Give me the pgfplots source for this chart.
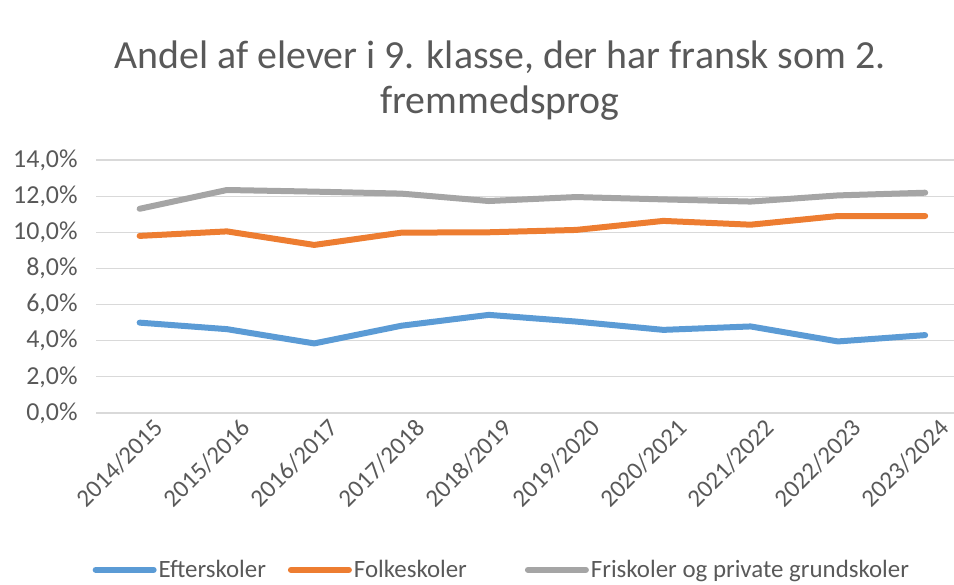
\documentclass[border=0pt]{standalone}
\usepackage{fontspec}
\setmainfont{Carlito}
\usepackage{pgfplots}
\pgfplotsset{compat=1.18}
\definecolor{cblue}{HTML}{5B9BD5}
\definecolor{corange}{HTML}{ED7D31}
\definecolor{cgray}{HTML}{A5A5A5}
\definecolor{gridc}{HTML}{D9D9D9}
\definecolor{txt}{HTML}{595959}
\begin{document}
\begin{tikzpicture}
% page frame: 954x585 px at 0.5bp per px
\path[use as bounding box] (-48bp,-86bp) rectangle (429bp,206.5bp);
\begin{axis}[
  scale only axis,
  width=429bp, height=126.5bp,
  xmin=-0.5, xmax=9.33,
  ymin=0, ymax=14,
  ytick={0,2,...,14},
  xtick={0,...,9},
  xticklabels={2014/2015,2015/2016,2016/2017,2017/2018,2018/2019,2019/2020,2020/2021,2021/2022,2022/2023,2023/2024},
  xticklabel style={rotate=45, anchor=north east, font=\fontsize{12.5}{14}\selectfont, text=txt,
    inner sep=0bp, xshift=3bp, yshift=-6bp},
  yticklabel style={font=\fontsize{13}{15}\selectfont, text=txt, inner xsep=0bp, xshift=-9bp},
  yticklabel={\pgfmathprintnumber[fixed,fixed zerofill,precision=1,use comma]{\tick}\%},
  /pgf/number format/assume math mode=true,
  xmajorgrids=false, ymajorgrids=true,
  y grid style={draw=gridc, line width=0.6bp},
  axis line style={draw=none},
  major tick length=0pt,
  tick style={draw=none},
  legend columns=3,
  legend style={draw=none, fill=none, at={(0.473,-0.62)}, anchor=center,
    font=\fontsize{12.5}{15}\selectfont, text=txt, inner sep=0bp,
    nodes={inner xsep=1bp},
    /tikz/column 2/.style={column sep=10bp},
    /tikz/column 4/.style={column sep=28bp},
    /tikz/every odd column/.append style={column sep=0bp}},
  legend cell align=left,
  legend image code/.code={\draw[#1, line width=3bp, line cap=round] (0bp,0bp) -- (29bp,0bp);},
  clip=false,
]
\addplot[cblue, line width=3bp, line join=round, line cap=round] coordinates {
  (0,5.00) (1,4.64) (2,3.85) (3,4.83) (4,5.43) (5,5.06) (6,4.60) (7,4.79) (8,3.96) (9,4.31)};
\addlegendentry{Efterskoler}
\addplot[corange, line width=3bp, line join=round, line cap=round] coordinates {
  (0,9.80) (1,10.05) (2,9.30) (3,9.98) (4,10.00) (5,10.13) (6,10.63) (7,10.42) (8,10.90) (9,10.90)};
\addlegendentry{Folkeskoler}
\addplot[cgray, line width=3bp, line join=round, line cap=round] coordinates {
  (0,11.30) (1,12.34) (2,12.25) (3,12.14) (4,11.73) (5,11.95) (6,11.82) (7,11.70) (8,12.04) (9,12.19)};
\addlegendentry{Friskoler og private grundskoler}
\end{axis}
\node[text=txt, align=center, font=\fontsize{20}{22.5}\selectfont] at (202bp,166bp)
  {Andel af elever i 9. klasse, der har fransk som 2.\\fremmedsprog};
\end{tikzpicture}
\end{document}
